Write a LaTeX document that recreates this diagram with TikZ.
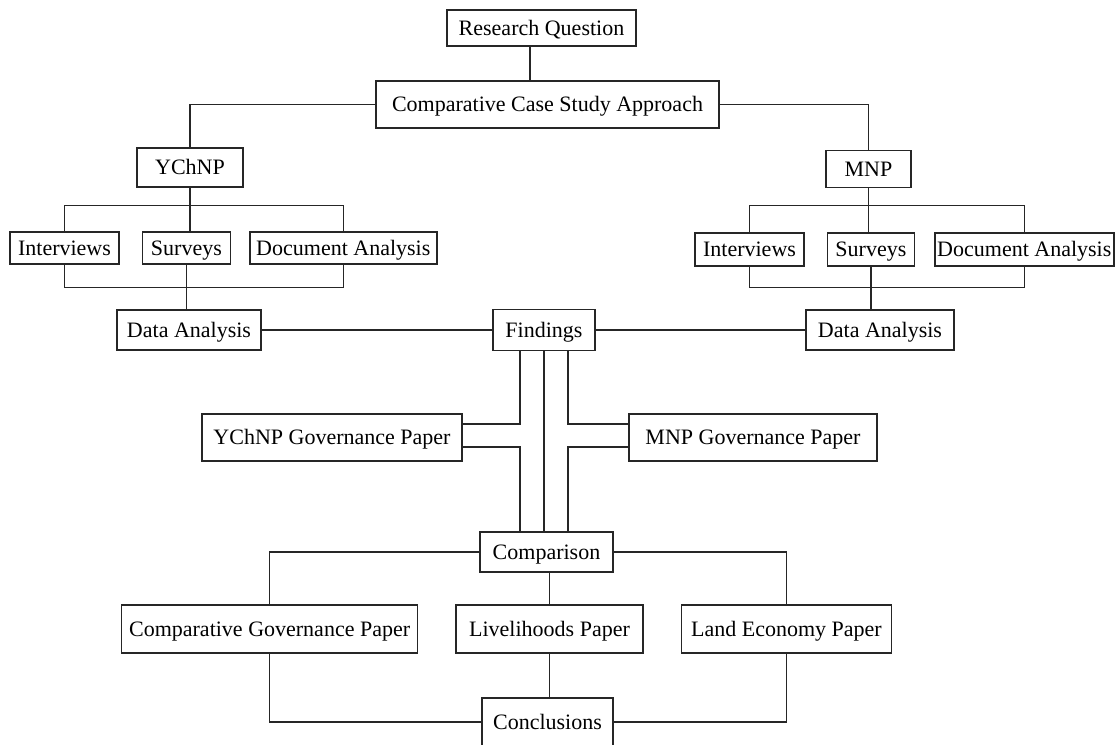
\documentclass[tikz,border=0pt]{standalone}
\usepackage{fontspec}
\setmainfont{Liberation Serif}
\usetikzlibrary{positioning}

\begin{document}
\begin{tikzpicture}[
    x=1pt, y=-1pt,
    box/.style={rectangle, draw=black!85, line width=1.4pt, fill=white, inner sep=0pt, text height=14.5pt, text depth=0pt, text centered, font=\fontsize{22}{26}\selectfont},
    wire/.style={draw=black!85, line width=1.4pt}
]
\useasboundingbox (0,0) rectangle (1115,744);
\fill[white] (0,0) rectangle (1115,744);

% Research design
\node[box, minimum width=189pt, minimum height=36pt] (rq) at (541.5,28) {Research Question};
\node[box, minimum width=343pt, minimum height=47pt] (ccsa) at (547.5,104.5) {Comparative Case Study Approach};

% Case study sites
\node[box, minimum width=106pt, minimum height=39pt] (ychnp) at (190,167.5) {YChNP};
\node[box, minimum width=85pt, minimum height=37pt] (mnp) at (868.5,169) {MNP};

% YChNP methods
\node[box, minimum width=109pt, minimum height=32pt] (lint) at (64.5,248) {Interviews};
\node[box, minimum width=88pt, minimum height=32pt, right=22pt of lint] (lsurv) {Surveys};
\node[box, minimum width=187pt, minimum height=32pt, right=18pt of lsurv] (ldoc) {Document Analysis};
\node[box, minimum width=144pt, minimum height=40pt] (lda) at (189,330) {Data Analysis};

% MNP methods
\node[box, minimum width=109pt, minimum height=33pt] (rint) at (749.5,249.5) {Interviews};
\node[box, minimum width=87pt, minimum height=33pt, right=22pt of rint] (rsurv) {Surveys};
\node[box, minimum width=179pt, minimum height=33pt, right=19pt of rsurv] (rdoc) {Document Analysis};
\node[box, minimum width=148pt, minimum height=40pt] (rda) at (880,330) {Data Analysis};

% Findings
\node[box, minimum width=102pt, minimum height=41pt] (find) at (544,330) {Findings};

% Governance papers
\node[box, minimum width=260pt, minimum height=47pt] (ygov) at (332,437.5) {YChNP Governance Paper};
\node[box, minimum width=248pt, minimum height=47pt] (mgov) at (753,437.5) {MNP Governance Paper};

% Comparison
\node[box, minimum width=133pt, minimum height=40pt] (comp) at (546.5,552) {Comparison};

% Output papers
\node[box, minimum width=187pt, minimum height=48pt] (live) at (549.5,629) {Livelihoods Paper};
\node[box, minimum width=296pt, minimum height=48pt, left=37pt of live] (cgp) {Comparative Governance Paper};
\node[box, minimum width=210pt, minimum height=48pt, right=37pt of live] (land) {Land Economy Paper};

% Conclusions
\node[box, minimum width=131pt, minimum height=48pt] (concl) at (547.5,722) {Conclusions};

% Connectors
\draw[wire] ([xshift=-11.5pt]rq.south) -- ([xshift=-11.5pt]rq.south |- ccsa.north);
\draw[wire] (ccsa.west) -| (ychnp.north);
\draw[wire] (ccsa.east) -| (mnp.north);

% YChNP brackets
\draw[wire] (ychnp.south) -- (ychnp.south |- lsurv.north);
\draw[wire] (lint.north) -- ++(0,-26) -| (ldoc.north);
\draw[wire] (lint.south) -- ++(0,23) -| (ldoc.south);
\draw[wire] (lsurv.south) -- (lsurv.south |- lda.north);

% MNP brackets
\draw[wire] (mnp.south) -- (mnp.south |- rsurv.north);
\draw[wire] (rint.north) -- ++(0,-27) -| (rdoc.north);
\draw[wire] (rint.south) -- ++(0,21) -| (rdoc.south);
\draw[wire] (rsurv.south) -- (rsurv.south |- rda.north);

% Data analysis to findings
\draw[wire] (lda.east) -- (find.west);
\draw[wire] (find.east) -- (rda.west);

% Findings through governance papers to comparison
\draw[wire] ([xshift=-24pt]find.south) |- ([yshift=13.5pt]ygov.east);
\draw[wire] ([yshift=-9.5pt]ygov.east) -| ([xshift=-24pt]find.south |- comp.north);
\draw[wire] (find.south) -- (find.south |- comp.north);
\draw[wire] ([xshift=24pt]find.south) |- ([yshift=13.5pt]mgov.west);
\draw[wire] ([yshift=-9.5pt]mgov.west) -| ([xshift=24pt]find.south |- comp.north);

% Comparison to papers and conclusions
\draw[wire] (comp.west) -| (cgp.north);
\draw[wire] (comp.east) -| (land.north);
\draw[wire] (comp.south -| live.north) -- (live.north);
\draw[wire] (cgp.south) |- (concl.west);
\draw[wire] (land.south) |- (concl.east);
\draw[wire] (live.south) -- (live.south |- concl.north);

\end{tikzpicture}
\end{document}
